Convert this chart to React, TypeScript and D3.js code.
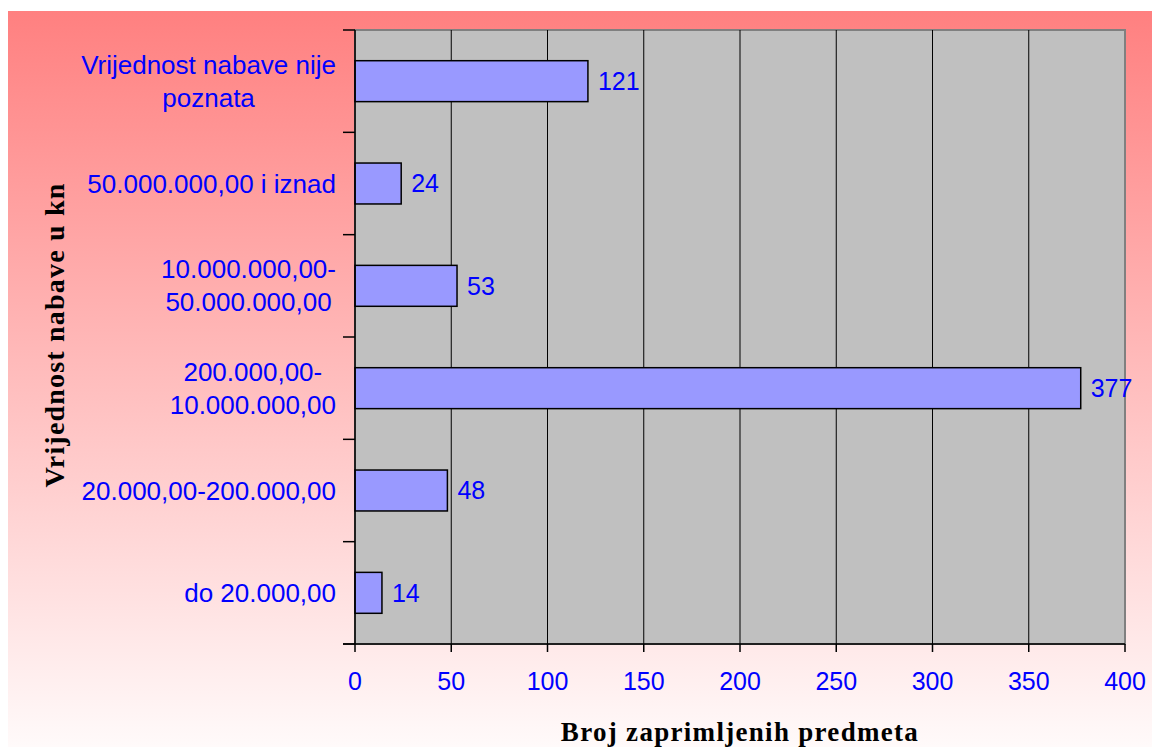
import { useMemo } from "react";
import * as d3 from "d3";

const categories = [
  "Vrijednost nabave nije\npoznata",
  "50.000.000,00 i iznad",
  "10.000.000,00-\n50.000.000,00",
  "200.000,00-\n10.000.000,00",
  "20.000,00-200.000,00",
  "do 20.000,00",
];
const values = [121, 24, 53, 377, 48, 14];
const xTicks = [0, 50, 100, 150, 200, 250, 300, 350, 400];
const xTitle = "Broj zaprimljenih predmeta";
const yTitle = "Vrijednost nabave u kn";

const W = 1152;
const H = 747;
const plot = { left: 355, top: 30, right: 1125, bottom: 644 };
const SANS = "'Liberation Sans', Arial, sans-serif";
const SERIF = "'Liberation Serif', 'Times New Roman', serif";
const LABEL_SIZE = 26;

function measure(text: string, font: string) {
  const ctx = document.createElement("canvas").getContext("2d");
  if (!ctx) return text.length * 12;
  ctx.font = font;
  return ctx.measureText(text).width;
}

export default function App() {
  const x = d3.scaleLinear().domain([0, 400]).range([plot.left, plot.right]);
  const y = d3
    .scaleBand()
    .domain(categories)
    .range([plot.top, plot.bottom])
    .paddingInner(0.6)
    .paddingOuter(0.3);
  const band = (plot.bottom - plot.top) / categories.length;

  // wrapped labels: block right-aligned, lines centred inside the block
  const labelLayout = useMemo(
    () =>
      categories.map((c) => {
        const lines = c.split("\n");
        const widths = lines.map((l) => measure(l, `${LABEL_SIZE}px ${SANS}`));
        const maxW = Math.max(...widths);
        return { lines, cx: 336 - maxW / 2 };
      }),
    []
  );

  const blue = "#0000FF";

  return (
    <div style={{ position: "fixed", left: 0, top: 0 }}>
      <svg width={W} height={H} style={{ display: "block" }}>
        <defs>
          <linearGradient id="bg" x1="0" y1="0" x2="0" y2="1">
            <stop offset="0" stopColor="#FF8080" />
            <stop offset="1" stopColor="#FFFAFA" />
          </linearGradient>
        </defs>
        <rect x={0} y={0} width={W} height={H} fill="#fff" />
        <rect x={8} y={11} width={W - 8} height={H - 11} fill="url(#bg)" />

        {/* plot area */}
        <rect
          x={plot.left}
          y={plot.top}
          width={plot.right - plot.left}
          height={plot.bottom - plot.top}
          fill="#C0C0C0"
          stroke="#808080"
          strokeWidth={2}
        />

        {/* vertical gridlines */}
        {xTicks.slice(1, -1).map((t) => (
          <line key={t} x1={x(t)} x2={x(t)} y1={plot.top} y2={plot.bottom} stroke="#000" strokeWidth={1} />
        ))}

        {/* bars */}
        {categories.map((c, i) => (
          <rect
            key={c}
            x={x(0)}
            y={y(c)}
            width={x(values[i]) - x(0)}
            height={y.bandwidth()}
            fill="#9999FF"
            stroke="#000"
            strokeWidth={1.5}
          />
        ))}

        {/* value labels */}
        {categories.map((c, i) => (
          <text
            key={c}
            x={x(values[i]) + 10}
            y={(y(c) ?? 0) + y.bandwidth() / 2}
            dy="0.35em"
            fill={blue}
            fontFamily={SANS}
            fontSize={25}
          >
            {values[i]}
          </text>
        ))}

        {/* axes */}
        <line x1={plot.left} x2={plot.left} y1={plot.top} y2={plot.bottom} stroke="#000" strokeWidth={1.5} />
        <line x1={plot.left - 12} x2={plot.right} y1={plot.bottom} y2={plot.bottom} stroke="#000" strokeWidth={1.5} />
        {d3.range(categories.length + 1).map((k) => (
          <line
            key={k}
            x1={plot.left - 12}
            x2={plot.left}
            y1={plot.top + k * band}
            y2={plot.top + k * band}
            stroke="#000"
            strokeWidth={1.5}
          />
        ))}
        {xTicks.map((t) => (
          <g key={t}>
            <line x1={x(t)} x2={x(t)} y1={plot.bottom} y2={plot.bottom + 8} stroke="#000" strokeWidth={1.5} />
            <text x={x(t)} y={690} textAnchor="middle" fill={blue} fontFamily={SANS} fontSize={25}>
              {t}
            </text>
          </g>
        ))}

        {/* category labels */}
        {categories.map((c, i) => {
          const { lines, cx } = labelLayout[i];
          const cy = (y(c) ?? 0) + y.bandwidth() / 2;
          const lh = 33;
          return (
            <text key={c} textAnchor="middle" fill={blue} fontFamily={SANS} fontSize={LABEL_SIZE}>
              {lines.map((l, j) => (
                <tspan key={j} x={cx} y={cy + (j - (lines.length - 1) / 2) * lh} dy="0.35em">
                  {l}
                </tspan>
              ))}
            </text>
          );
        })}

        {/* titles */}
        <text
          x={(plot.left + plot.right) / 2}
          y={741}
          textAnchor="middle"
          fontFamily={SERIF}
          fontWeight="bold"
          fontSize={27}
          letterSpacing={1.3}
        >
          {xTitle}
        </text>
        <text
          transform={`translate(64,335) rotate(-90)`}
          textAnchor="middle"
          fontFamily={SERIF}
          fontWeight="bold"
          fontSize={28}
          letterSpacing={1.2}
        >
          {yTitle}
        </text>
      </svg>
    </div>
  );
}
